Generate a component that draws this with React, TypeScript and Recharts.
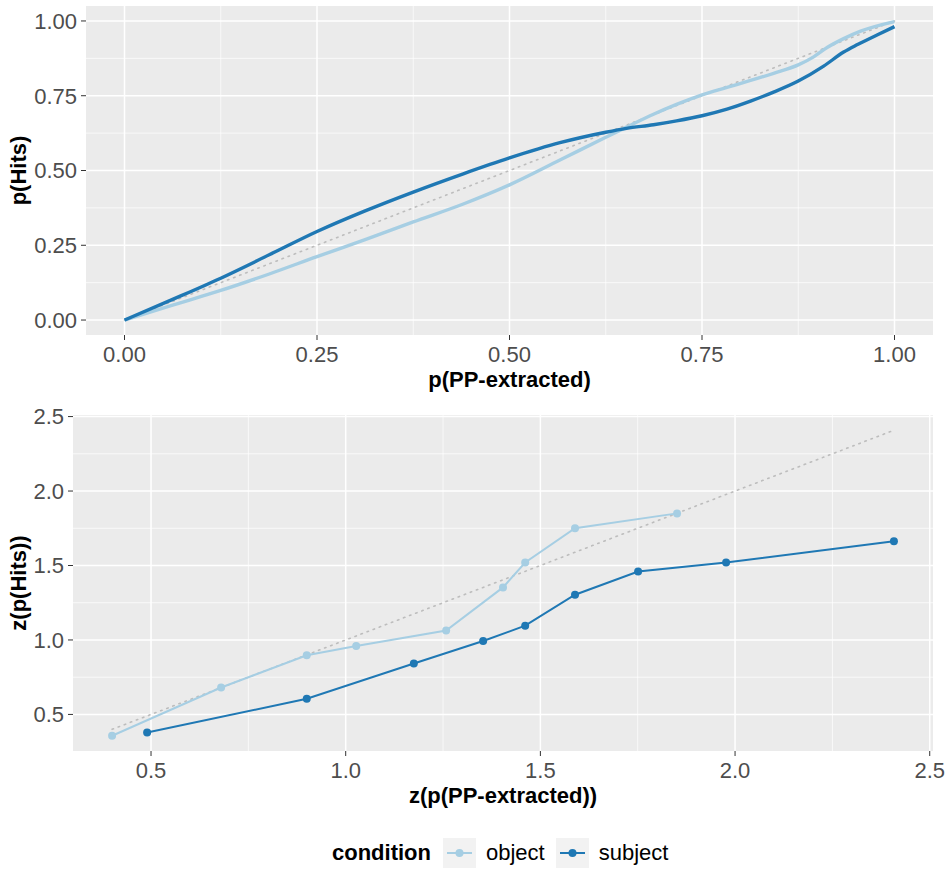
import React from "react";
import { LineChart, Line, XAxis, YAxis, CartesianGrid, Label } from "recharts";

// ---------- data ----------
const LIGHT = "#a6cee3";
const DARK = "#1f78b4";

// ROC (top panel)
const rocObjectX = [0, 0.0625, 0.125, 0.188, 0.25, 0.3125, 0.375, 0.44, 0.5, 0.5655, 0.625, 0.652, 0.687, 0.717, 0.75, 0.7825, 0.813, 0.843, 0.875, 0.895, 0.913, 0.934, 0.956, 1.0];
const rocObjectY = [0, 0.05, 0.099, 0.154, 0.212, 0.269, 0.328, 0.388, 0.452, 0.535, 0.611, 0.645, 0.688, 0.721, 0.753, 0.778, 0.801, 0.825, 0.853, 0.88, 0.912, 0.941, 0.966, 0.998];
const rocSubjectX = [0, 0.0625, 0.125, 0.188, 0.25, 0.3125, 0.375, 0.44, 0.5, 0.5655, 0.625, 0.652, 0.687, 0.717, 0.75, 0.7825, 0.813, 0.843, 0.875, 0.908, 0.934, 0.952, 0.978, 1.0];
const rocSubjectY = [0, 0.069, 0.14, 0.218, 0.296, 0.365, 0.428, 0.489, 0.542, 0.593, 0.628, 0.641, 0.653, 0.666, 0.683, 0.705, 0.732, 0.762, 0.799, 0.849, 0.896, 0.921, 0.954, 0.981];
const rocDiag = [0, 1];

// zROC (bottom panel)
const zObjectX = [0.40, 0.68, 0.90, 1.027, 1.258, 1.404, 1.461, 1.589, 1.851];
const zObjectY = [0.357, 0.681, 0.897, 0.96, 1.063, 1.353, 1.52, 1.75, 1.85];
const zSubjectX = [0.49, 0.90, 1.175, 1.353, 1.461, 1.589, 1.751, 1.977, 2.408];
const zSubjectY = [0.379, 0.605, 0.842, 0.993, 1.096, 1.304, 1.46, 1.52, 1.663];

// ticks
const rocMajor = [0, 0.25, 0.5, 0.75, 1];
const rocMinor = [0.125, 0.375, 0.625, 0.875];
const zMajor = [0.5, 1.0, 1.5, 2.0, 2.5];
const zMinor = [0.75, 1.25, 1.75, 2.25];

const legendItems = ["object", "subject"];

// ---------- helpers ----------
const zip = (xs: number[], ys: number[]) => xs.map((x, i) => ({ x, y: ys[i] }));
const expand = (vals: number[]): [number, number] => {
  const lo = Math.min(...vals);
  const hi = Math.max(...vals);
  const pad = (hi - lo) * 0.05;
  return [lo - pad, hi + pad];
};

const rocObj = zip(rocObjectX, rocObjectY);
const rocSub = zip(rocSubjectX, rocSubjectY);
const rocDiagData = zip(rocDiag, rocDiag);

const zObj = zip(zObjectX, zObjectY);
const zSub = zip(zSubjectX, zSubjectY);
const zAll = [...zObjectX, ...zSubjectX];
const zLo = Math.min(...zAll);
const zHi = Math.max(...zAll);
const zDiagData = zip([zLo, zHi], [zLo, zHi]);
const zXDomain = expand(zAll);
const zYDomain = expand([...zObjectY, ...zSubjectY, zLo, zHi]);
const rocDomain = expand([...rocObjectX, ...rocSubjectX, ...rocObjectY, ...rocSubjectY]);

const FONT = "'Liberation Sans', Arial, Helvetica, sans-serif";
const tickStyle = { fill: "#4d4d4d", fontSize: 22, fontFamily: FONT };

const XTitle = (props: any) => {
  const vb = props.viewBox || {};
  return (
    <text
      x={vb.x + vb.width / 2}
      y={vb.y + 52}
      textAnchor="middle"
      fontFamily={FONT}
      fontSize={22}
      fontWeight="bold"
      fill="#000"
    >
      {props.value}
    </text>
  );
};

const YTitle = (props: any) => {
  const vb = props.viewBox || {};
  const cx = 26;
  const cy = vb.y + vb.height / 2;
  return (
    <text
      x={cx}
      y={cy}
      transform={`rotate(-90 ${cx} ${cy})`}
      textAnchor="middle"
      fontFamily={FONT}
      fontSize={22}
      fontWeight="bold"
      fill="#000"
    >
      {props.value}
    </text>
  );
};

const LegendKey = ({ color }: { color: string }) => (
  <svg width={33} height={30} style={{ display: "block" }}>
    <rect x={0} y={0} width={33} height={30} fill="#f2f2f2" />
    <line x1={4} y1={15} x2={29} y2={15} stroke={color} strokeWidth={2} />
    <circle cx={16.5} cy={15} r={4} fill={color} />
  </svg>
);

export default function App() {
  return (
    <div style={{ position: "absolute", left: 0, top: 0, width: 951, height: 869, background: "#fff" }}>
      <LineChart width={951} height={395} margin={{ top: 6, right: 18, bottom: 0, left: 0 }}>
        <CartesianGrid
          fill="#ebebeb"
          stroke="#ffffff"
          strokeWidth={0.7}
          horizontalValues={rocMinor}
          verticalValues={rocMinor}
        />
        <CartesianGrid
          stroke="#ffffff"
          strokeWidth={1.5}
          horizontalValues={rocMajor}
          verticalValues={rocMajor}
        />
        <XAxis
          type="number"
          dataKey="x"
          domain={rocDomain}
          ticks={rocMajor}
          allowDataOverflow
          axisLine={false}
          tickLine={{ stroke: "#333333", strokeWidth: 1 }}
          tickSize={5}
          tickMargin={6}
          tick={tickStyle}
          tickFormatter={(v: number) => v.toFixed(2)}
          height={60}
          label={<Label value="p(PP-extracted)" content={XTitle} />}
        />
        <YAxis
          type="number"
          dataKey="y"
          domain={rocDomain}
          ticks={rocMajor}
          allowDataOverflow
          axisLine={false}
          tickLine={{ stroke: "#333333", strokeWidth: 1 }}
          tickSize={5}
          tickMargin={4}
          tick={tickStyle}
          tickFormatter={(v: number) => v.toFixed(2)}
          width={86}
          label={<Label value="p(Hits)" content={YTitle} />}
        />
        <Line
          data={rocDiagData}
          dataKey="y"
          stroke="#bdbdbd"
          strokeWidth={1.6}
          strokeDasharray="1.5 5"
          strokeLinecap="round"
          dot={false}
          isAnimationActive={false}
          name="diag"
        />
        <Line
          data={rocObj}
          dataKey="y"
          type="monotone"
          stroke={LIGHT}
          strokeWidth={3.4}
          dot={false}
          isAnimationActive={false}
          name="object"
        />
        <Line
          data={rocSub}
          dataKey="y"
          type="monotone"
          stroke={DARK}
          strokeWidth={3.4}
          dot={false}
          isAnimationActive={false}
          name="subject"
        />
      </LineChart>

      <LineChart width={951} height={416} margin={{ top: 20, right: 18, bottom: 0, left: 0 }}>
        <CartesianGrid
          fill="#ebebeb"
          stroke="#ffffff"
          strokeWidth={0.7}
          horizontalValues={zMinor}
          verticalValues={zMinor}
        />
        <CartesianGrid
          stroke="#ffffff"
          strokeWidth={1.5}
          horizontalValues={zMajor}
          verticalValues={zMajor}
        />
        <XAxis
          type="number"
          dataKey="x"
          domain={zXDomain}
          ticks={zMajor}
          allowDataOverflow
          axisLine={false}
          tickLine={{ stroke: "#333333", strokeWidth: 1 }}
          tickSize={5}
          tickMargin={6}
          tick={tickStyle}
          tickFormatter={(v: number) => v.toFixed(1)}
          height={60}
          label={<Label value="z(p(PP-extracted))" content={XTitle} />}
        />
        <YAxis
          type="number"
          dataKey="y"
          domain={zYDomain}
          ticks={zMajor}
          allowDataOverflow
          axisLine={false}
          tickLine={{ stroke: "#333333", strokeWidth: 1 }}
          tickSize={5}
          tickMargin={4}
          tick={tickStyle}
          tickFormatter={(v: number) => v.toFixed(1)}
          width={73}
          label={<Label value="z(p(Hits))" content={YTitle} />}
        />
        <Line
          data={zDiagData}
          dataKey="y"
          stroke="#bdbdbd"
          strokeWidth={1.6}
          strokeDasharray="1.5 5"
          strokeLinecap="round"
          dot={false}
          isAnimationActive={false}
          name="diag"
        />
        <Line
          data={zObj}
          dataKey="y"
          type="linear"
          stroke={LIGHT}
          strokeWidth={2}
          dot={{ r: 4, fill: LIGHT, stroke: "none" }}
          isAnimationActive={false}
          name="object"
        />
        <Line
          data={zSub}
          dataKey="y"
          type="linear"
          stroke={DARK}
          strokeWidth={2}
          dot={{ r: 4, fill: DARK, stroke: "none" }}
          isAnimationActive={false}
          name="subject"
        />
      </LineChart>

      <div
        style={{
          position: "absolute",
          left: 332,
          top: 838,
          height: 30,
          display: "flex",
          alignItems: "center",
          fontFamily: FONT,
          fontSize: 22,
          color: "#000",
        }}
      >
        <span style={{ fontWeight: "bold", marginRight: 12 }}>condition</span>
        {legendItems.map((name, i) => (
          <React.Fragment key={name}>
            <LegendKey color={i === 0 ? LIGHT : DARK} />
            <span style={{ marginLeft: 10, marginRight: i === 0 ? 11 : 0 }}>{name}</span>
          </React.Fragment>
        ))}
      </div>
    </div>
  );
}
